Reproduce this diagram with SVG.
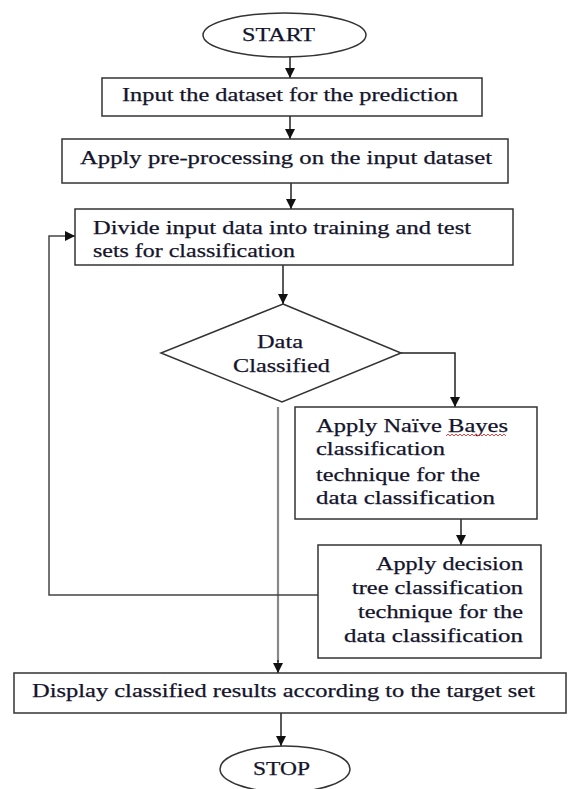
<svg xmlns="http://www.w3.org/2000/svg" width="568" height="789" viewBox="0 0 568 789">
<defs>
<marker id="ah" viewBox="0 0 10 10" refX="10" refY="5" markerWidth="10" markerHeight="10" markerUnits="userSpaceOnUse" orient="auto">
<path d="M0,0 L10,5 L0,10 Z" fill="#111"/>
</marker>
</defs>
<style>
.box{fill:#fff;stroke:#333;stroke-width:1.5}
.t{font-family:"Liberation Serif","Times New Roman",serif;font-size:19px;fill:#14142b;stroke:#14142b;stroke-width:0.25}
.c{fill:none;stroke:#222;stroke-width:1.5}
.g{fill:none;stroke:#888;stroke-width:2.2}
</style>
<rect width="568" height="789" fill="#fff"/>
<g id="connectors">
<line class="c" x1="290" y1="57" x2="290" y2="78" marker-end="url(#ah)"/>
<line class="c" x1="290" y1="116" x2="290" y2="139" marker-end="url(#ah)"/>
<line class="c" x1="291" y1="183" x2="291" y2="209" marker-end="url(#ah)"/>
<line class="c" x1="283" y1="265" x2="283" y2="304" marker-end="url(#ah)"/>
<polyline class="c" points="401,353 455,353 455,407" marker-end="url(#ah)"/>
<line class="c" x1="461" y1="519" x2="461" y2="545" marker-end="url(#ah)"/>
<line class="g" x1="278" y1="407" x2="278" y2="662"/>
<line class="c" x1="278" y1="660" x2="278" y2="673" marker-end="url(#ah)"/>
<polyline class="c" points="318,595 49,595 49,236 75,236" marker-end="url(#ah)" style="stroke:#444"/>
<line class="c" x1="281" y1="713" x2="281" y2="746" marker-end="url(#ah)"/>
</g>
<g id="start">
<ellipse class="box" cx="284.5" cy="35" rx="81.5" ry="22"/>
<text class="t" x="242" y="41" textLength="73" lengthAdjust="spacingAndGlyphs">START</text>
</g>
<g id="input">
<rect class="box" x="102" y="78" width="380" height="38"/>
<text class="t" x="122" y="101" textLength="336" lengthAdjust="spacingAndGlyphs">Input the dataset for the prediction</text>
</g>
<g id="preprocess">
<rect class="box" x="62" y="139" width="446" height="44"/>
<text class="t" x="80" y="164" textLength="412" lengthAdjust="spacingAndGlyphs">Apply pre-processing  on the input dataset</text>
</g>
<g id="divide">
<rect class="box" x="75" y="209" width="438" height="56"/>
<text class="t" x="93" y="234" textLength="378" lengthAdjust="spacingAndGlyphs">Divide input data into training and test</text>
<text class="t" x="93" y="257" textLength="202" lengthAdjust="spacingAndGlyphs">sets for classification</text>
</g>
<g id="decision">
<polygon class="box" points="283,304 401,353 282,402 161,353"/>
<text class="t" x="257" y="348" textLength="46" lengthAdjust="spacingAndGlyphs">Data</text>
<text class="t" x="233" y="372" textLength="97" lengthAdjust="spacingAndGlyphs">Classified</text>
</g>
<g id="naive">
<rect class="box" x="295" y="407" width="242" height="112"/>
<text class="t" x="316" y="432" textLength="192" lengthAdjust="spacingAndGlyphs">Apply Naïve Bayes</text>
<path d="M446,436 l2,-2 l2,2 l2,-2 l2,2 l2,-2 l2,2 l2,-2 l2,2 l2,-2 l2,2 l2,-2 l2,2 l2,-2 l2,2 l2,-2 l2,2 l2,-2 l2,2 l2,-2 l2,2 l2,-2 l2,2 l2,-2 l2,2 l2,-2 l2,2 l2,-2 l2,2 l2,-2 l2,2" fill="none" stroke="#e03030" stroke-width="0.9"/>
<text class="t" x="316" y="455" textLength="129" lengthAdjust="spacingAndGlyphs">classification</text>
<text class="t" x="316" y="481" textLength="164" lengthAdjust="spacingAndGlyphs">technique for the</text>
<text class="t" x="316" y="504" textLength="179" lengthAdjust="spacingAndGlyphs">data classification</text>
</g>
<g id="dtree">
<rect class="box" x="318" y="545" width="223" height="113"/>
<text class="t" x="376" y="570" textLength="147" lengthAdjust="spacingAndGlyphs">Apply decision</text>
<text class="t" x="352" y="594" textLength="171" lengthAdjust="spacingAndGlyphs">tree classification</text>
<text class="t" x="358" y="618" textLength="165" lengthAdjust="spacingAndGlyphs">technique for the</text>
<text class="t" x="344" y="642" textLength="179" lengthAdjust="spacingAndGlyphs">data classification</text>
</g>
<g id="display">
<rect class="box" x="14" y="673" width="552" height="40"/>
<text class="t" x="32" y="697" textLength="503" lengthAdjust="spacingAndGlyphs">Display classified results  according to the target set</text>
</g>
<g id="stop">
<ellipse class="box" cx="285" cy="769" rx="65" ry="23"/>
<text class="t" x="253" y="775" textLength="57" lengthAdjust="spacingAndGlyphs">STOP</text>
</g>
</svg>
